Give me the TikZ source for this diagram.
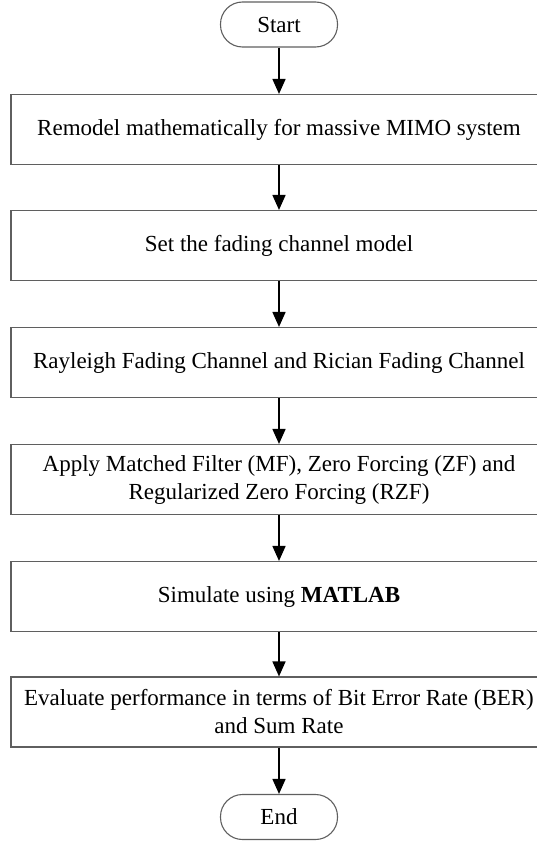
\documentclass[tikz,border=0pt]{standalone}
\usepackage{fontspec}
\setmainfont{Liberation Serif}
\usetikzlibrary{arrows.meta}
\definecolor{boxgray}{RGB}{95,95,95}

\begin{document}
\begin{tikzpicture}[x=1pt,y=-1pt,
  every node/.style={font=\fontsize{23}{28}\selectfont},
  stepbox/.style={draw=boxgray,line width=1.1pt,minimum width=536pt,minimum height=70pt,align=center,inner sep=0pt},
  termbox/.style={draw=boxgray,line width=1.1pt,rounded corners=22pt,minimum width=117pt,minimum height=45pt},
  flow/.style={line width=1.6pt,-{Triangle[length=15pt,width=13pt]}}]
  \def\cx{279}
  \useasboundingbox (0,0) rectangle (536,843);

%terminals and steps:
  \node[termbox] (start) at (\cx,24.5) {Start};
  \node[stepbox] (remodel) at (\cx,129.5) {Remodel mathematically for massive MIMO system};
  \node[stepbox] (fading) at (\cx,245.5) {Set the fading channel model};
  \node[stepbox] (channel) at (\cx,362.5) {Rayleigh Fading Channel and Rician Fading Channel};
  \node[stepbox] (detect) at (\cx,479.5) {Apply Matched Filter (MF), Zero Forcing (ZF) and\\Regularized Zero Forcing (RZF)};
  \node[stepbox] (simulate) at (\cx,596.5) {Simulate using \textbf{MATLAB}};
  \node[stepbox] (evaluate) at (\cx,712) {Evaluate performance in terms of Bit Error Rate (BER)\\and Sum Rate};
  \node[termbox] (end) at (\cx,817) {End};

%arrows:
  \draw[flow] (start) -- (remodel);
  \draw[flow] (remodel) -- (fading);
  \draw[flow] (fading) -- (channel);
  \draw[flow] (channel) -- (detect);
  \draw[flow] (detect) -- (simulate);
  \draw[flow] (simulate) -- (evaluate);
  \draw[flow] (evaluate) -- (end);

\end{tikzpicture}
\end{document}
